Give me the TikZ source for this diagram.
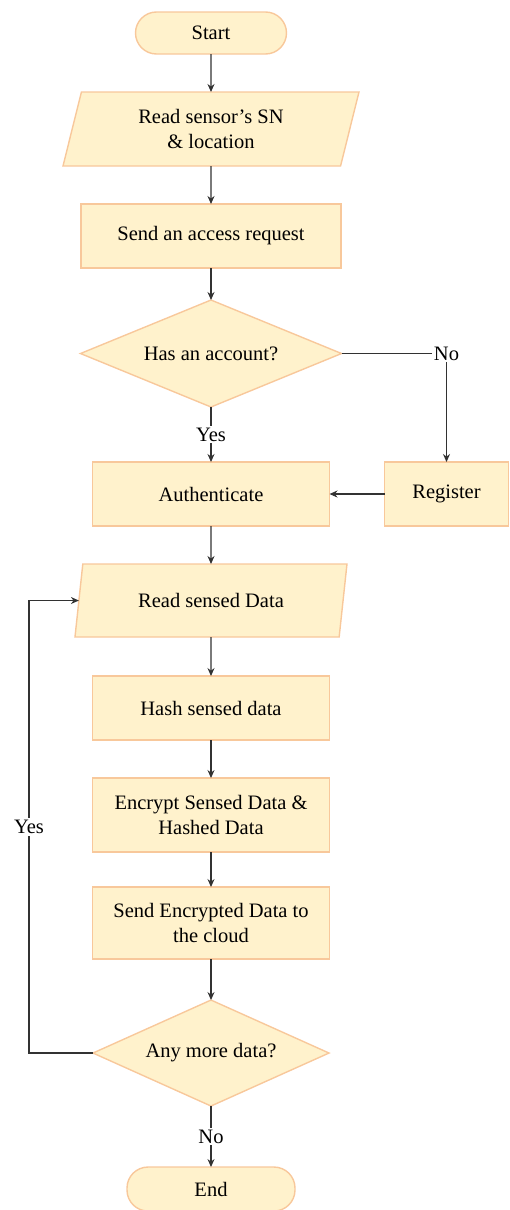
\documentclass[tikz,border=0pt]{standalone}
\usepackage{fontspec}
\setmainfont{Liberation Serif}
\usetikzlibrary{shapes.geometric,arrows.meta,positioning}
\definecolor{boxfill}{RGB}{255,242,204}
\definecolor{boxline}{RGB}{248,200,155}
\definecolor{wire}{RGB}{50,50,50}

\begin{document}
\begin{tikzpicture}[x=1pt,y=1pt,
        font=\rmfamily\fontsize{20.5}{25}\selectfont,
        box/.style={draw=boxline,fill=boxfill,line width=1.4pt,align=center,inner sep=2pt,outer sep=0pt},
        term/.style={box,rounded corners=21pt,minimum width=151pt,minimum height=42pt},
        proc/.style={box,minimum width=237pt,minimum height=64pt},
        io/.style={box,trapezium,trapezium left angle=67,trapezium right angle=113,trapezium stretches body,minimum height=73pt},
        decide/.style={box,diamond,aspect=2.4,inner sep=0pt},
        flow/.style={draw=wire,line width=1.1pt,-{Stealth[length=8pt,width=7pt]}},
        lbl/.style={fill=white,inner sep=2pt}
      ]
  \useasboundingbox (0,0) rectangle (509,-1210);

  \node   (start) [term] at (211,-33) {Start};
  \node   (readsn) [io,minimum width=296pt,minimum height=74pt,below=38pt of start] {Read sensor’s SN\\ \& location};
  \node   (request) [proc,minimum width=260pt,below=38pt of readsn] {Send an access request};
  \node   (account) [decide,minimum width=261pt,minimum height=107pt,below=32pt of request] {Has an account?};
  \node   (auth) [proc,below=55pt of account] {Authenticate};
  \node   (register) [proc,minimum width=124pt,right=55pt of auth] {Register};

  \node   (sensed) [io,minimum width=272pt,below=38pt of auth] {Read sensed Data};
  \node   (hash) [proc,below=39pt of sensed] {Hash sensed data};
  \node   (encrypt) [proc,minimum height=74pt,below=38pt of hash] {Encrypt Sensed Data \&\\ Hashed Data};
  \node   (upload) [proc,minimum height=72pt,below=35pt of encrypt] {Send Encrypted Data to\\ the cloud};
  \node   (more) [decide,minimum width=236pt,minimum height=106pt,below=41pt of upload] {Any more data?};
  \node   (end) [term,minimum width=168pt,minimum height=44pt,below=61pt of more] {End};

  \draw[flow] (start) -- (readsn);
  \draw[flow] (readsn) -- (request);
  \draw[flow] (request) -- (account);
  \draw[flow] (account) -- node[lbl] {Yes} (auth);
  \draw[flow] (account.east) -| node[lbl,pos=0.5] {No} (register.north);
  \draw[flow] (register) -- (auth);
  \draw[flow] (auth) -- (sensed);

  \draw[flow] (sensed) -- (hash);
  \draw[flow] (hash) -- (encrypt);
  \draw[flow] (encrypt) -- (upload);
  \draw[flow] (upload) -- (more);
  \draw[flow] (more.west) -- ++(-64,0) |- node[lbl,pos=0.25] {Yes} (sensed.west);
  \draw[flow] (more) -- node[lbl] {No} (end);

\end{tikzpicture}
\end{document}
